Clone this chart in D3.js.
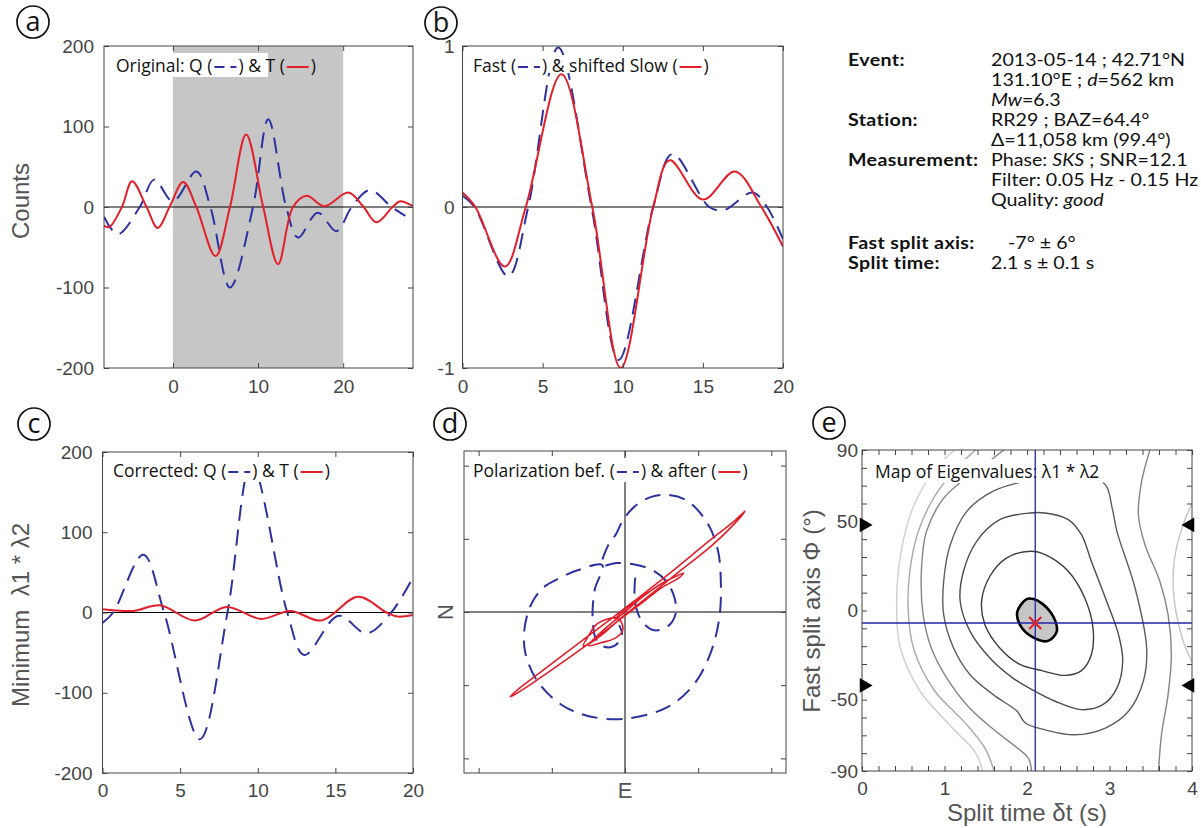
<!DOCTYPE html>
<html>
<head>
<meta charset="utf-8">
<script src="https://cdn.jsdelivr.net/npm/d3@7"></script>
<style>
  body { margin: 0; background: #fff; }
  svg { display: block; }
  text { white-space: pre; }
</style>
</head>
<body>
<div id="chart"></div>
<script>
// ---------- data ----------
// (a) original Q (radial) and T (transverse), counts vs time (s)
const tQa = [-8.1, -6.5, -3.9, -2.2, 0.0, 2.75, 4.4, 6.7, 9.4, 11.2, 13.3, 14.7, 17.0, 19.2, 21.0, 23.1, 25.7, 27.3];
const vQa = [-12, -34, 0, 34, 7, 44, 0, -100, 0, 109, 0, -38, -7, -30, 0, 21, 0, -11];
const tTa = [-8.1, -7.5, -6.0, -4.8, -3.1, -1.8, -0.4, 1.2, 2.75, 5.0, 6.7, 8.6, 10.6, 12.35, 14.1, 15.7, 17.8, 20.6, 22.4, 23.9, 25.8, 26.7, 28.2];
const vTa = [-23, -25, 0, 32, 0, -26, 0, 31, 0, -61, 0, 90, 0, -71, 0, 14, 1, 18, 0, -19, 0, 7, 1];
const windowA = [0, 20];

// (b) fast and shifted slow, normalised
const tFast = [0, 0.75, 2.85, 4.1, 5.97, 8.05, 9.75, 11.9, 13.1, 15.4, 16.3, 18.1, 19.0, 20];
const vFast = [0.07, 0, -0.43, 0, 0.99, 0, -0.95, 0, 0.33, 0, -0.02, 0.09, 0, -0.2];
const tSlow = [0, 0.8, 2.64, 3.95, 6.17, 8.1, 9.88, 11.9, 12.93, 15.0, 17.0, 18.65, 20];
const vSlow = [0.09, 0, -0.37, 0, 0.825, 0, -1.0, 0, 0.29, 0.046, 0.22, 0, -0.245];

// (c) corrected Q and T
const tQc = [0, 0.69, 2.62, 3.97, 6.27, 8.05, 9.6, 11.9, 13.0, 15.2, 17.0, 18.6, 20];
const vQc = [-13, 0, 72, 0, -158, 0, 185, 0, -53, -4, -26, 0, 44];
const tTc = [0, 2.0, 3.7, 5.95, 8.0, 10.2, 12.1, 14.1, 16.46, 18.3, 19.0, 20];
const vTc = [4, 2, 9, -10, 7, -8, 2, -10, 19.5, 0, -5, -3];

// (d) particle motion [E, N]
const pmBefore = [
  [14, 47], [13, 25], [16, 3], [25, -15], [40, -25], [58, -20], [69, -3], [68, 18], [58, 40], [40, 56],
  [13, 65], [-12, 67], [-31, 64],
  [-24, 89], [-12, 107], [-3, 125], [13, 144], [35, 157], [58, 160], [85, 152], [113, 121], [127, 84],
  [131, 39], [129, -7], [118, -53], [95, -98], [58, -130], [-1, -146], [-51, -142], [-88, -126],
  [-120, -94], [-136, -57], [-138, -30], [-133, -2], [-124, 18], [-111, 34], [-90, 46], [-65, 57], [-31, 64],
  [-41, 32], [-44, 8], [-44, -15], [-40, -36], [-30, -47], [-14, -46], [-4, -32], [-8, -18]
];
const pmAfter = [
  [-14, -10], [-4, 0], [20, 18], [50, 39], [72, 50], [80, 53], [74, 47], [50, 33], [20, 10], [0, -5],
  [-40, -36], [-90, -72], [-135, -103], [-153, -114], [-157, -116], [-150, -109], [-110, -78], [-60, -40],
  [-20, -10], [10, 13], [60, 52], [110, 93], [150, 125], [162, 136], [164, 138], [158, 130], [120, 92],
  [70, 52], [25, 16], [-5, -8], [-30, -30], [-50, -44], [-57, -46], [-50, -33], [-40, -18], [-25, -10],
  [-12, -8], [-4, -16], [-4, -27], [-14, -36], [-33, -42], [-50, -46], [-30, -25], [0, 0], [31, 27]
];

// (e) energy map contours [dt (s), phi (deg)]
const cEllipse = [[1.996, 6.4], [1.883, -0.7], [1.915, -8.1], [2.057, -14.7], [2.25, -17.1], [2.36, -11.9], [2.32, -3.5], [2.18, 4.0], [2.08, 6.4]];
const cB = [[2.04, 33.2], [2.22, 31.3], [2.50, 22], [2.70, 7], [2.80, -9.8], [2.78, -24.8], [2.66, -33.7], [2.46, -36.4], [2.18, -33.7], [1.92, -30.4], [1.67, -21], [1.49, -8], [1.45, 5.2], [1.55, 19.2], [1.75, 29.4]];
const cC = [[2.04, 54.7], [2.22, 54.7], [2.50, 51], [2.66, 42.5], [2.78, 27.6], [2.95, 7], [3.11, -13.6], [3.16, -28.5], [3.09, -43.5], [2.92, -52.8], [2.66, -55.6], [2.34, -50.9], [2.06, -44.4], [1.83, -37.9], [1.55, -26.6], [1.31, -11.7], [1.19, 5.2], [1.23, 22], [1.39, 38.8], [1.67, 50.9]];
const cD = [[1.96, 72.5], [2.3, 77], [2.7, 76], [2.95, 70.6], [3.03, 58], [3.09, 44.4], [3.31, 12.6], [3.45, -21], [3.41, -39.7], [3.23, -56.5], [2.95, -65.9], [2.58, -69.7], [2.22, -66.9], [1.98, -63.1], [1.88, -56.5], [1.59, -47.2], [1.31, -36], [1.11, -21], [0.99, -2.3], [0.99, 16.4], [1.07, 36.9], [1.27, 55.6], [1.59, 66.9]];
const cEleft = [[1.8, 93], [1.55, 84], [1.31, 76], [0.99, 63], [0.78, 44], [0.72, 22], [0.74, -2], [0.84, -21], [1.03, -38], [1.31, -55], [1.63, -68], [1.88, -77], [2.02, -83], [2.06, -93]];
const cEright = [[3.51, 93], [3.39, 72.5], [3.35, 53.7], [3.43, 36.9], [3.61, 16.4], [3.71, -2.3], [3.75, -24.8], [3.71, -47.2], [3.63, -69.7], [3.59, -93]];
const cF = [[1.45, 93], [1.15, 80], [0.88, 64], [0.68, 44], [0.58, 22], [0.56, 0], [0.63, -22], [0.88, -45], [1.25, -63], [1.5, -78], [1.62, -93]];
const cG = [[1.2, 93], [0.9, 80], [0.62, 58], [0.47, 32], [0.42, 5], [0.46, -20], [0.7, -45], [1.1, -66], [1.38, -80], [1.48, -93]];
const cRlight = [[4.05, 64], [3.95, 55], [3.85, 42], [3.78, 26], [3.78, 8], [3.85, -10], [3.95, -24], [4.05, -32]];
const bestDt = 2.1, bestPhi = -7;
const nullMarks = [48, -42];

// text block
const infoRows = [
  { y: 60, label: 'Event:', parts: [['2013-05-14 ; 42.71°N']] },
  { y: 80, label: '', parts: [['131.10°E ; '], ['d', 'i'], ['=562 km']] },
  { y: 100, label: '', parts: [['Mw', 'i'], ['=6.3']] },
  { y: 120, label: 'Station:', parts: [['RR29 ; BAZ=64.4°']] },
  { y: 140, label: '', parts: [['Δ=11,058 km (99.4°)']] },
  { y: 160, label: 'Measurement:', parts: [['Phase: '], ['SKS', 'i'], [' ; SNR=12.1']] },
  { y: 180, label: '', parts: [['Filter: 0.05 Hz - 0.15 Hz']] },
  { y: 200, label: '', parts: [['Quality: '], ['good', 'i']] },
  { y: 243, label: 'Fast split axis:', parts: [['-7° ± 6°']], dx: 17 },
  { y: 263, label: 'Split time:', parts: [['2.1 s ± 0.1 s']] }
];

// ---------- drawing ----------
const BLUE = '#2c32a0';
const RED = '#e2202b';
const TICKFONT = '"Liberation Sans", Arial, sans-serif';
const TEXTFONT = '"Open Sans", "Noto Sans", sans-serif';
const INFOFONT = 'Lato, "Open Sans", sans-serif';

const svg = d3.select('#chart').append('svg')
  .attr('width', 1201)
  .attr('height', 828);
const defs = svg.append('defs');

function makePanel(id, xd, yd, box) {
  const [l, t, r, b] = box;
  const x = d3.scaleLinear().domain(xd).range([l, r]);
  const y = d3.scaleLinear().domain(yd).range([b, t]);
  const g = svg.append('g').attr('class', 'panel-' + id);
  defs.append('clipPath').attr('id', 'clip-' + id)
    .append('rect').attr('x', l).attr('y', t).attr('width', r - l).attr('height', b - t);
  const plot = g.append('g').attr('clip-path', `url(#clip-${id})`);
  return { id, g, plot, x, y, l, t, r, b };
}

function styleAxis(s) {
  s.select('.domain').remove();
  s.attr('font-size', 19).attr('font-family', TICKFONT).attr('color', '#444');
}

function drawAxes(p, o) {
  const fx = o.xf || (d => String(d));
  const fy = o.yf || (d => String(d));
  p.g.append('g').attr('transform', `translate(0,${p.b})`)
    .call(d3.axisBottom(p.x).tickValues(o.xt).tickSize(-5).tickPadding(o.xpad).tickFormat(fx))
    .call(styleAxis);
  p.g.append('g').attr('transform', `translate(0,${p.t})`)
    .call(d3.axisTop(p.x).tickValues(o.xt).tickSize(-5).tickFormat(''))
    .call(styleAxis);
  p.g.append('g').attr('transform', `translate(${p.l},0)`)
    .call(d3.axisLeft(p.y).tickValues(o.yt).tickSize(-5).tickPadding(o.ypad).tickFormat(fy))
    .call(styleAxis);
  p.g.append('g').attr('transform', `translate(${p.r},0)`)
    .call(d3.axisRight(p.y).tickValues(o.yt).tickSize(-5).tickFormat(''))
    .call(styleAxis);
}

function drawBox(p) {
  p.g.append('rect')
    .attr('x', p.l).attr('y', p.t)
    .attr('width', p.r - p.l).attr('height', p.b - p.t)
    .attr('fill', 'none').attr('stroke', '#444').attr('stroke-width', 1);
}

function zeroLine(p) {
  p.plot.append('line')
    .attr('x1', p.l).attr('x2', p.r)
    .attr('y1', p.y(0)).attr('y2', p.y(0))
    .attr('stroke', '#000').attr('stroke-width', 1);
}

function trace(p, pts, color, dashed, width, curve) {
  const line = d3.line()
    .x(d => p.x(d[0]))
    .y(d => p.y(d[1]))
    .curve(curve || d3.curveCatmullRom.alpha(0.5));
  p.plot.append('path')
    .datum(pts)
    .attr('d', line)
    .attr('fill', 'none')
    .attr('stroke', color)
    .attr('stroke-width', width || 2)
    .attr('stroke-dasharray', dashed ? '16,9' : null)
    .attr('stroke-linejoin', 'round');
}

// legend: one text element, the line samples sit in gaps left with dx
function legend(p, x0, yc, pieces, padTop, padBot) {
  const SAMPLE = 22;
  const lg = p.g.append('g');
  const bg = lg.append('rect').attr('fill', '#fff');
  const t = lg.append('text')
    .attr('x', x0).attr('y', yc).attr('dy', '0.35em')
    .attr('font-family', TEXTFONT).attr('font-size', 17.5).attr('fill', '#111');
  const gaps = [];
  let chars = 0, pending = 0;
  pieces.forEach(pc => {
    if (typeof pc === 'string') {
      t.append('tspan').attr('dx', pending || null).text(pc);
      chars += pc.length;
      pending = 0;
    } else {
      gaps.push({ after: chars - 1, key: pc });
      pending = SAMPLE + 4;
    }
  });
  const node = t.node();
  gaps.forEach(gp => {
    const sx = node.getEndPositionOfChar(gp.after).x + 2;
    lg.append('line')
      .attr('x1', sx).attr('x2', sx + SAMPLE)
      .attr('y1', yc + 1).attr('y2', yc + 1)
      .attr('stroke', gp.key.color).attr('stroke-width', 2)
      .attr('stroke-dasharray', gp.key.dashed ? '10,6,6,40' : null);
  });
  const w = node.getComputedTextLength();
  bg.attr('x', x0 - 4).attr('y', yc - (padTop || 13))
    .attr('width', w + 8).attr('height', (padTop || 13) + (padBot || 11));
  return lg;
}

function axisLabel(x, y, txt, rotate, size) {
  svg.append('text')
    .attr('transform', `translate(${x},${y})` + (rotate ? ' rotate(-90)' : ''))
    .attr('text-anchor', 'middle')
    .attr('dy', '0.35em')
    .attr('font-family', TICKFONT)
    .attr('font-size', size || 24)
    .attr('fill', '#555')
    .text(txt);
}

function panelLetter(cx, cy, ch) {
  svg.append('circle').attr('cx', cx).attr('cy', cy).attr('r', 16)
    .attr('fill', 'none').attr('stroke', '#111').attr('stroke-width', 1.7);
  svg.append('text').attr('x', cx).attr('y', cy + 8.5)
    .attr('text-anchor', 'middle')
    .attr('font-family', TEXTFONT).attr('font-size', 27).attr('fill', '#111')
    .text(ch);
}

const blueKey = { color: BLUE, dashed: true };
const redKey = { color: RED, dashed: false };

// ---- (a)
const pa = makePanel('a', [-8.1, 28.2], [-200, 200], [104, 46, 413, 368]);
pa.plot.append('rect')
  .attr('x', pa.x(windowA[0])).attr('y', pa.t)
  .attr('width', pa.x(windowA[1]) - pa.x(windowA[0])).attr('height', pa.b - pa.t)
  .attr('fill', '#c6c6c6');
zeroLine(pa);
trace(pa, d3.zip(tQa, vQa), BLUE, true);
trace(pa, d3.zip(tTa, vTa), RED, false);
drawAxes(pa, { xt: [0, 10, 20], yt: [-200, -100, 0, 100, 200], xpad: 12, ypad: 10 });
drawBox(pa);
legend(pa, 116, 66, ['Original: Q (', blueKey, ') & T (', redKey, ')']);
axisLabel(21, 201, 'Counts', true);

// ---- (b)
const pb = makePanel('b', [0, 20], [-1, 1], [462.5, 46, 783, 368]);
zeroLine(pb);
trace(pb, d3.zip(tFast, vFast), BLUE, true);
trace(pb, d3.zip(tSlow, vSlow), RED, false);
drawAxes(pb, { xt: [0, 5, 10, 15, 20], yt: [-1, 0, 1], xpad: 12, ypad: 8 });
drawBox(pb);
legend(pb, 473, 66, ['Fast (', blueKey, ') & shifted Slow (', redKey, ')'], 11, 7);

// ---- (c)
const pc = makePanel('c', [0, 20], [-200, 200], [102.5, 452, 413, 773]);
zeroLine(pc);
trace(pc, d3.zip(tQc, vQc), BLUE, true);
trace(pc, d3.zip(tTc, vTc), RED, false);
drawAxes(pc, { xt: [0, 5, 10, 15, 20], yt: [-200, -100, 0, 100, 200], xpad: 11, ypad: 10 });
drawBox(pc);
legend(pc, 113, 471, ['Corrected: Q (', blueKey, ') & T (', redKey, ')']);
axisLabel(21, 615, 'Minimum  λ1 * λ2', true);

// ---- (d)
const pd = makePanel('d', [-220, 220], [-220, 220], [464, 451, 786, 773]);
pd.plot.append('line').attr('x1', pd.l).attr('x2', pd.r).attr('y1', pd.y(0)).attr('y2', pd.y(0))
  .attr('stroke', '#000').attr('stroke-width', 1);
pd.plot.append('line').attr('x1', pd.x(0)).attr('x2', pd.x(0)).attr('y1', pd.t).attr('y2', pd.b)
  .attr('stroke', '#000').attr('stroke-width', 1);
trace(pd, pmBefore, BLUE, true, 2);
trace(pd, pmAfter, RED, false, 1.6);
drawAxes(pd, { xt: [-200, -100, 0, 100, 200], yt: [-200, -100, 0, 100, 200], xpad: 10, ypad: 10, xf: () => '', yf: () => '' });
drawBox(pd);
legend(pd, 473, 471, ['Polarization bef. (', blueKey, ') & after (', redKey, ')']);
axisLabel(445, 612, 'N', true, 22);
axisLabel(625, 790, 'E', false, 22);

// ---- (e)
const pe = makePanel('e', [0, 4], [-90, 90], [862, 450, 1192, 771]);
const closed = d3.curveCatmullRomClosed.alpha(0.5);
const open = d3.curveCatmullRom.alpha(0.5);
[[cG, '#cfcfcf', open], [cF, '#a9a9a9', open], [cRlight, '#c4c4c4', open],
 [cEleft, '#858585', open], [cEright, '#858585', open],
 [cD, '#5e5e5e', closed], [cC, '#4c4c4c', closed], [cB, '#3c3c3c', closed]]
  .forEach(([pts, col, cv]) => trace(pe, pts, col, false, 1.4, cv));
pe.plot.append('path')
  .datum(cEllipse)
  .attr('d', d3.line().x(d => pe.x(d[0])).y(d => pe.y(d[1])).curve(closed))
  .attr('fill', '#c6c6c6').attr('stroke', '#000').attr('stroke-width', 2.6);
legend(pe, 875, 472, ['Map of Eigenvalues: λ1 * λ2']);
// best-fit cross hair is drawn over the legend box
const cross = pe.g.append('g').attr('clip-path', 'url(#clip-e)');
cross.append('line').attr('x1', pe.l).attr('x2', pe.r).attr('y1', pe.y(bestPhi)).attr('y2', pe.y(bestPhi))
  .attr('stroke', '#2323a6').attr('stroke-width', 1.3);
cross.append('line').attr('x1', pe.x(bestDt)).attr('x2', pe.x(bestDt)).attr('y1', pe.t).attr('y2', pe.b)
  .attr('stroke', '#2323a6').attr('stroke-width', 1.3);
const bx = pe.x(bestDt), by = pe.y(bestPhi);
cross.append('path')
  .attr('d', `M${bx - 6},${by - 6}L${bx + 6},${by + 6}M${bx - 6},${by + 6}L${bx + 6},${by - 6}`)
  .attr('stroke', RED).attr('stroke-width', 2.2);
drawAxes(pe, {
  xt: d3.range(0, 21).map(i => i / 5),
  yt: d3.range(-9, 10).map(i => i * 10),
  xpad: 11, ypad: 4,
  xf: d => Number.isInteger(d) ? String(d) : '',
  yf: d => [-90, -50, 0, 50, 90].includes(d) ? String(d) : ''
});
drawBox(pe);
const tri = d3.symbol(d3.symbolTriangle, 95);
nullMarks.forEach(phi => {
  pe.g.append('path').attr('d', tri())
    .attr('transform', `translate(${pe.l + 2},${pe.y(phi)}) rotate(90)`).attr('fill', '#000');
  pe.g.append('path').attr('d', tri())
    .attr('transform', `translate(${pe.r - 2},${pe.y(phi)}) rotate(-90)`).attr('fill', '#000');
});
axisLabel(812, 611, 'Fast split axis Φ (°)', true);
axisLabel(1027, 813, 'Split time δt (s)', false);

// ---- text block: one multi-line text, widened like the source lettering
const SX = 1.19;
const info = svg.append('g')
  .attr('transform', `translate(848,0) scale(${SX},1)`)
  .append('text')
  .attr('font-family', INFOFONT).attr('font-size', 16.5).attr('fill', '#111');
infoRows.forEach(r => {
  if (r.label) {
    info.append('tspan').attr('x', 0).attr('y', r.y + 6)
      .attr('font-weight', 700).attr('letter-spacing', 0.3).text(r.label);
  }
  r.parts.forEach(([s, st], i) => {
    const ts = info.append('tspan').attr('font-style', st === 'i' ? 'italic' : null).text(s);
    if (i === 0) ts.attr('x', (991 - 848 + (r.dx || 0)) / SX).attr('y', r.y + 6).attr('letter-spacing', 0);
  });
});

// ---- panel letters
panelLetter(33, 22, 'a');
panelLetter(441, 23, 'b');
panelLetter(34, 424, 'c');
panelLetter(450, 424, 'd');
panelLetter(829, 423, 'e');
</script>
</body>
</html>
